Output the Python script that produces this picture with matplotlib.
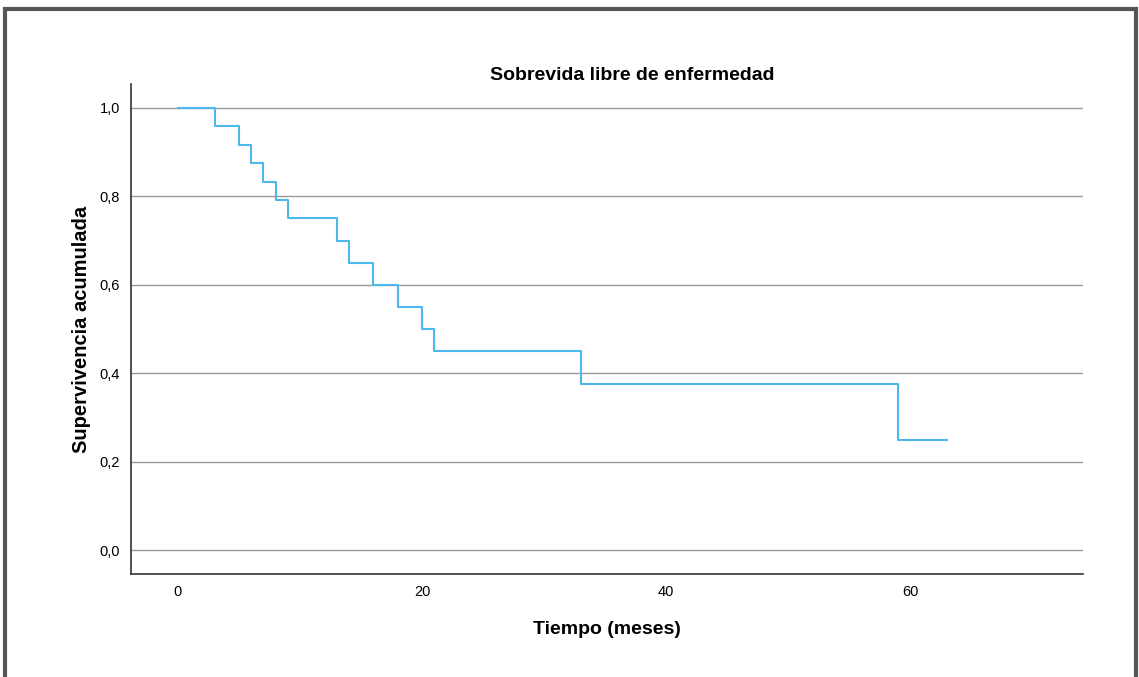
#!/usr/bin/env python3

"""Kaplan-Meier style step curve: sobrevida libre de enfermedad."""

import matplotlib
matplotlib.use('Agg')
import matplotlib.pyplot as plt
from matplotlib.patches import Rectangle

# Event times (months) and survival after each step.
tiempo = [0, 3, 5, 6, 7, 8, 9, 13, 14, 16, 18, 20, 21, 33, 59, 63]
supervivencia = [1.0, 0.958, 0.917, 0.875, 0.833, 0.792, 0.75, 0.70, 0.65,
                 0.60, 0.55, 0.50, 0.45, 0.375, 0.25, 0.25]

x_ticks = [0, 20, 40, 60]
y_ticks = [0.0, 0.2, 0.4, 0.6, 0.8, 1.0]
y_labels = ['0,0', '0,2', '0,4', '0,6', '0,8', '1,0']

plt.rcParams['font.family'] = ['Liberation Sans', 'DejaVu Sans']

fig = plt.figure(figsize=(11.39, 6.77), dpi=100)
ax = fig.add_axes([0.115, 0.152, 0.836, 0.724])

# Outer frame of the output window (no bottom edge visible).
fig.patches.append(Rectangle((4.5 / 1139, -0.05), 1131.5 / 1139, 1.05 - 8.5 / 677,
                             transform=fig.transFigure, fill=False,
                             edgecolor='#555555', linewidth=3))

for y in y_ticks:
    ax.axhline(y, color='#9a9a9a', linewidth=1, zorder=1)

ax.step(tiempo, supervivencia, where='post', color='#4db8ec', linewidth=1.5, zorder=2)

ax.set_xlim(-3.85, 74.2)
ax.set_ylim(-0.054, 1.054)
ax.set_xticks(x_ticks)
ax.set_yticks(y_ticks)
ax.set_yticklabels(y_labels)
ax.tick_params(length=0, labelsize=10.5, pad=8)

for side in ['top', 'right']:
    ax.spines[side].set_visible(False)
for side in ['left', 'bottom']:
    ax.spines[side].set_color('#333333')
    ax.spines[side].set_linewidth(1.2)

ax.set_title('Sobrevida libre de enfermedad', fontsize=14, fontweight='bold',
             pad=3, x=0.526)
ax.set_xlabel('Tiempo (meses)', fontsize=14, fontweight='bold', labelpad=16)
ax.set_ylabel('Supervivencia acumulada', fontsize=14.5, fontweight='bold', labelpad=6)

fig.savefig('out.png', dpi=100)
